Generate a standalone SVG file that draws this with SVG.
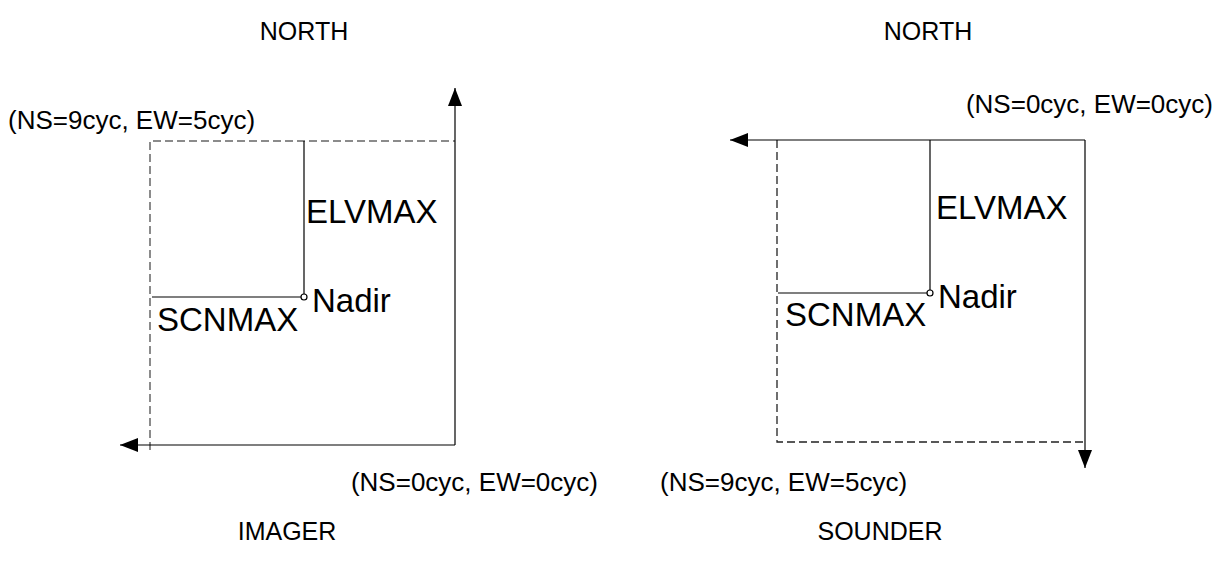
<svg xmlns="http://www.w3.org/2000/svg" width="1222" height="568" viewBox="0 0 1222 568">
<style>
text{font-family:"Liberation Sans",Arial,sans-serif;fill:#000}
.c{font-size:26px}
.l{font-size:33px}
.t{font-size:25px}
.s{stroke:#000;stroke-width:1.2;fill:none}
.d{stroke:#666;stroke-width:1.5;fill:none;stroke-dasharray:8,4}
.d2{stroke:#222;stroke-width:1.3;fill:none;stroke-dasharray:8,4}
</style>
<defs>
<marker id="ah" markerWidth="18" markerHeight="14" refX="18" refY="7" orient="auto" markerUnits="userSpaceOnUse">
<path d="M0,0 L18,7 L0,14 Z" fill="#000"/>
</marker>
</defs>
<g id="imager">
<text class="t" x="304" y="40" text-anchor="middle">NORTH</text>
<text class="c" x="8" y="129">(NS=9cyc, EW=5cyc)</text>
<text class="c" x="598" y="491" text-anchor="end">(NS=0cyc, EW=0cyc)</text>
<text class="t" x="287" y="540" text-anchor="middle">IMAGER</text>
<text class="l" x="306" y="223">ELVMAX</text>
<text class="l" x="312" y="312">Nadir</text>
<text class="l" x="157" y="331">SCNMAX</text>
<path class="d" d="M150,450 V141 H455"/>
<circle cx="304" cy="297" r="3" fill="#fff" stroke="#000" stroke-width="1.2"/>
</g>
<g id="sounder">
<text class="t" x="928" y="40" text-anchor="middle">NORTH</text>
<text class="c" x="1213" y="113" text-anchor="end">(NS=0cyc, EW=0cyc)</text>
<text class="c" x="660" y="491">(NS=9cyc, EW=5cyc)</text>
<text class="t" x="880" y="540" text-anchor="middle">SOUNDER</text>
<text class="l" x="936" y="219">ELVMAX</text>
<text class="l" x="938" y="308">Nadir</text>
<text class="l" x="785" y="326">SCNMAX</text>
<path class="d2" d="M777,140 V442 H1085"/>
<circle cx="930" cy="293" r="3" fill="#fff" stroke="#000" stroke-width="1.2"/>
</g>
<g id="connectors">
<path class="s" d="M455,445 V88" marker-end="url(#ah)"/>
<path class="s" d="M455,445 H120" marker-end="url(#ah)"/>
<path class="s" d="M304,141 V294"/>
<path class="s" d="M152,297 H301"/>
<path class="s" d="M1085,140 H730" marker-end="url(#ah)"/>
<path class="s" d="M1085,140 V468" marker-end="url(#ah)"/>
<path class="s" d="M930,140 V290"/>
<path class="s" d="M778,293 H927"/>
</g>
</svg>
